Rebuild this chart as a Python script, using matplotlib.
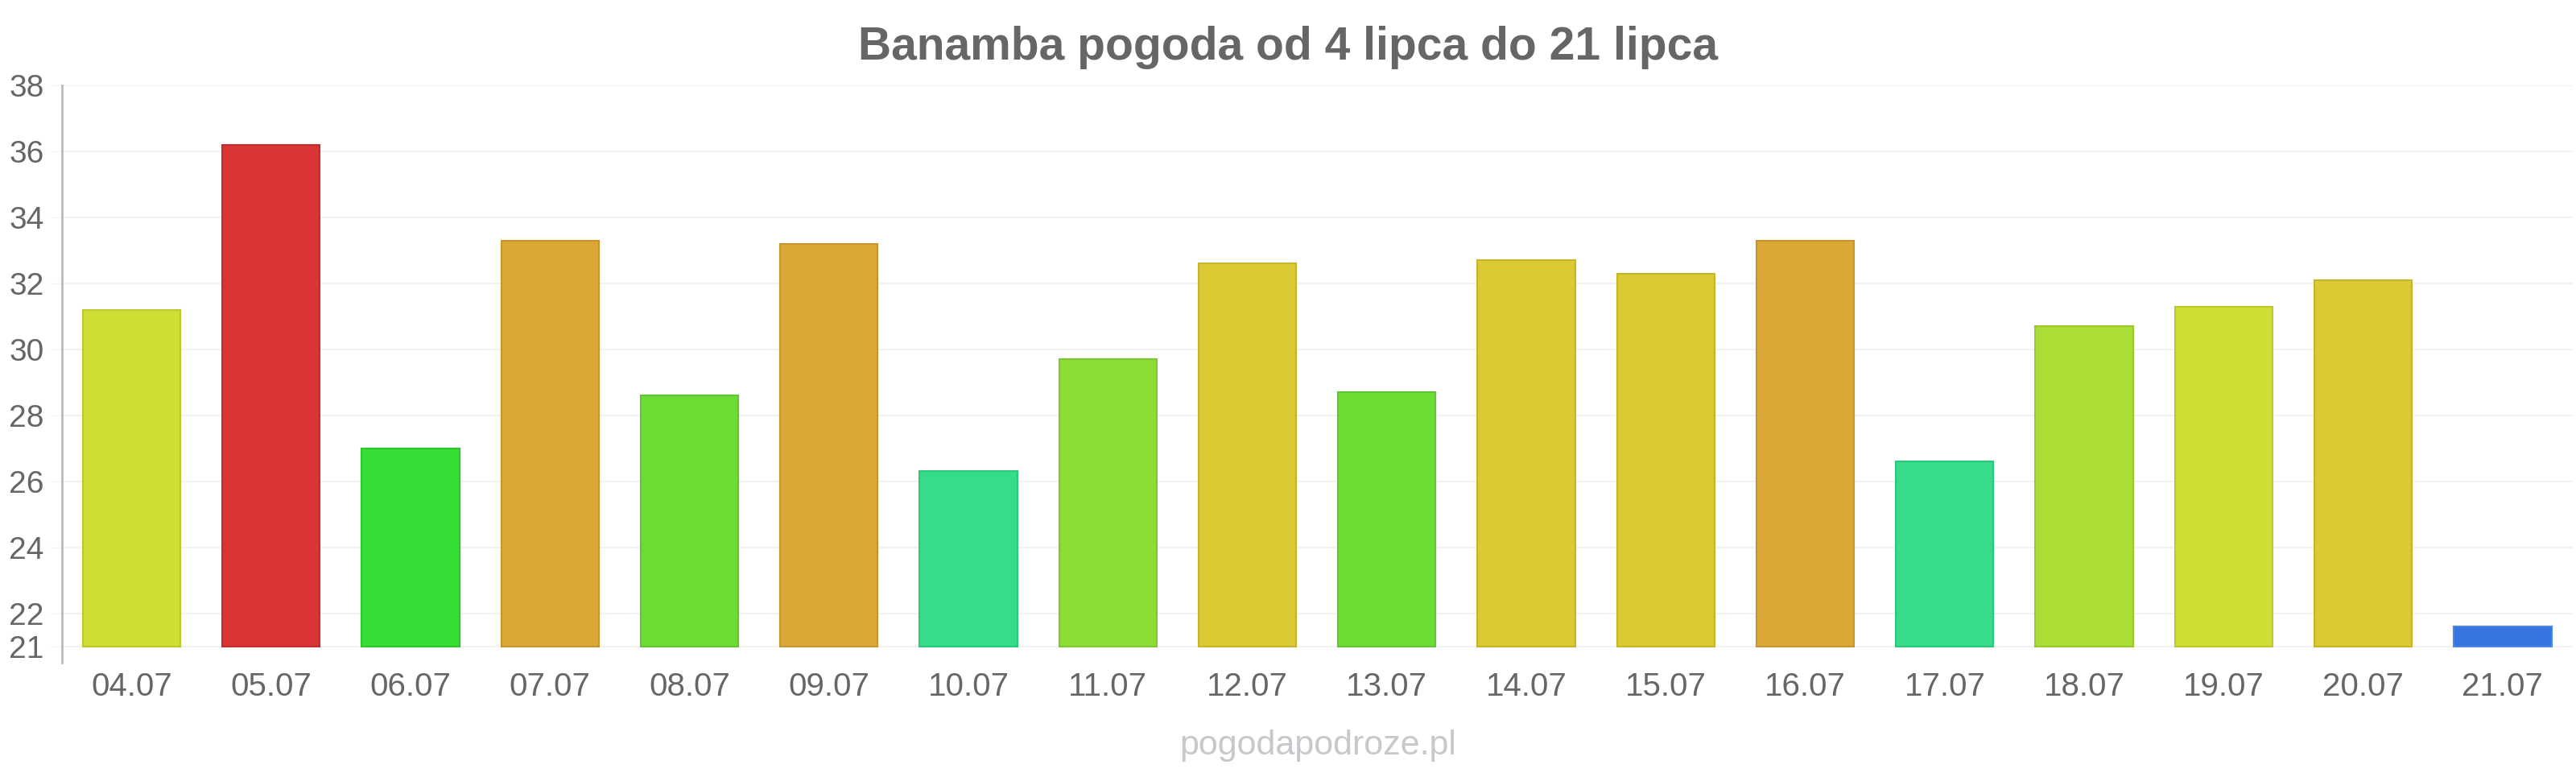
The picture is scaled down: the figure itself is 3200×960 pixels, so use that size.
import matplotlib
matplotlib.use("Agg")
import matplotlib.pyplot as plt

days = ["04.07", "05.07", "06.07", "07.07", "08.07", "09.07", "10.07", "11.07", "12.07",
        "13.07", "14.07", "15.07", "16.07", "17.07", "18.07", "19.07", "20.07", "21.07"]
temps = [31.2, 36.2, 27.0, 33.3, 28.6, 33.2, 26.3, 29.7, 32.6,
         28.7, 32.7, 32.3, 33.3, 26.6, 30.7, 31.3, 32.1, 21.6]
colors = ["#d0dd35", "#da3535", "#35dd35", "#dca835", "#6bdd35", "#dca835", "#35dd8a", "#8cdd35", "#dcca35",
          "#6bdd35", "#dcca35", "#dcca35", "#dca835", "#35dd8a", "#acdd35", "#d0dd35", "#dcca35", "#3575dd"]
edges = ["#bcc82c", "#c42d2d", "#2ec82e", "#c6952c", "#5fc82e", "#c6952c", "#2ec87a", "#7dc82e", "#c6b52c",
         "#5fc82e", "#c6b52c", "#c6b52c", "#c6952c", "#2ec87a", "#9ac82e", "#bcc82c", "#c6b52c", "#4a86e8"]
yticks = [21, 22, 24, 26, 28, 30, 32, 34, 36, 38]

base = 21
plt.rcParams['font.family'] = ['Liberation Sans', 'DejaVu Sans']

fig = plt.figure(figsize=(32, 9.6), dpi=100)
ax = fig.add_axes([0.0240, 0.1427, 0.9746, 0.7469])

x = range(len(days))
heights = [t - base for t in temps]
ax.bar(x, heights, bottom=base, width=0.7, color=colors, edgecolor=edges, linewidth=1.5, zorder=3)

ax.set_xlim(-0.5, len(days) - 0.5)
ax.set_ylim(20.5, 38)
ax.set_yticks(yticks)
ax.set_xticks(list(x))
ax.set_xticklabels(days)
ax.grid(axis="y", color="#f2f2f2", linewidth=1.5, zorder=0)

for side in ["top", "right", "bottom"]:
    ax.spines[side].set_visible(False)
ax.spines["left"].set_color("#bbbbbb")
ax.spines["left"].set_linewidth(2)

ax.tick_params(axis="y", length=10, color="#f2f2f2", labelsize=28, labelcolor="#666666", pad=6)
ax.tick_params(axis="x", length=0, labelsize=29, labelcolor="#666666", pad=8)

fig.text(0.5, 0.939, "Banamba pogoda od 4 lipca do 21 lipca", ha="center", va="center",
         fontsize=41, fontweight="bold", color="#666666")
fig.text(0.5115, 0.035, "pogodapodroze.pl", ha="center", va="center", fontsize=31, color="#c8c8cc")

fig.savefig("out.png", dpi=100)
